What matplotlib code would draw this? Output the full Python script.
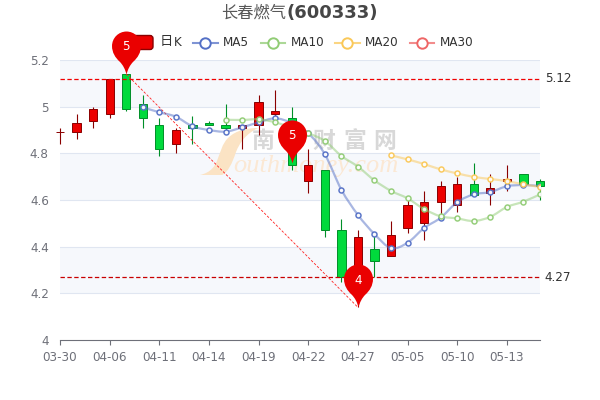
import numpy as np
import matplotlib
matplotlib.use('Agg')
import matplotlib.pyplot as plt
from matplotlib.path import Path
from matplotlib.patches import PathPatch, FancyBboxPatch
from matplotlib.transforms import Affine2D

dates = ['03-30', '', '', '04-06', '', '', '04-11', '', '', '04-14', '', '', '04-19', '', '',
         '04-22', '', '', '04-27', '', '', '05-05', '', '', '05-10', '', '', '05-13', '', '']
opens = [4.89, 4.89, 4.94, 4.97, 5.14, 5.01, 4.92, 4.84, 4.92, 4.93, 4.92, 4.91, 4.92, 4.97, 4.95,
         4.68, 4.73, 4.47, 4.24, 4.39, 4.36, 4.48, 4.50, 4.59, 4.58, 4.67, 4.63, 4.68, 4.71, 4.68]
closes = [4.89, 4.93, 4.99, 5.12, 4.99, 4.95, 4.82, 4.90, 4.91, 4.92, 4.91, 4.92, 5.02, 4.98, 4.75,
          4.75, 4.47, 4.27, 4.44, 4.34, 4.45, 4.58, 4.59, 4.66, 4.67, 4.62, 4.65, 4.69, 4.67, 4.66]
highs = [4.91, 4.97, 5.00, 5.12, 5.14, 5.05, 4.95, 4.91, 4.96, 4.94, 5.01, 4.92, 5.05, 5.07, 5.00,
         4.82, 4.73, 4.52, 4.47, 4.45, 4.51, 4.60, 4.64, 4.68, 4.70, 4.76, 4.71, 4.75, 4.71, 4.69]
lows = [4.84, 4.86, 4.91, 4.95, 4.98, 4.91, 4.79, 4.80, 4.84, 4.92, 4.90, 4.82, 4.88, 4.93, 4.73,
        4.63, 4.44, 4.25, 4.14, 4.27, 4.36, 4.46, 4.43, 4.53, 4.55, 4.62, 4.58, 4.64, 4.67, 4.60]
ma5 = [4.997, 4.976, 4.957, 4.916, 4.90, 4.893, 4.911, 4.933, 4.95, 4.93, 4.886, 4.796, 4.644, 4.536,
       4.454, 4.394, 4.417, 4.48, 4.524, 4.591, 4.624, 4.634, 4.659, 4.664, 4.66]
ma10 = [4.944, 4.943, 4.946, 4.933, 4.91, 4.886, 4.853, 4.789, 4.743, 4.684, 4.639, 4.607, 4.561,
        4.530, 4.521, 4.51, 4.528, 4.57, 4.593, 4.624]
ma20 = [4.791, 4.774, 4.754, 4.731, 4.714, 4.699, 4.69, 4.681, 4.667, 4.656]
ticks_y = [4, 4.2, 4.4, 4.6, 4.8, 5, 5.2]
tick_labels_y = ['4', '4.2', '4.4', '4.6', '4.8', '5', '5.2']
mark_lines = [5.12, 4.27]
pins = [(4, 5.14, '5'), (14, 4.76, '5'), (18, 4.14, '4')]

RED, RED_EDGE = '#ec0000', '#8a0000'
GREEN, GREEN_EDGE = '#00da3c', '#008f28'
AXIS = '#6e7079'
TEXT = '#464646'
MA_COLORS = {'MA5': '#5470c6', 'MA10': '#91cc75', 'MA20': '#fac858', 'MA30': '#ee6666'}

plt.rcParams['font.family'] = ['DejaVu Sans', 'Noto Sans CJK SC']

fig = plt.figure(figsize=(6, 4), dpi=100)
ax = fig.add_axes([60 / 600, 60 / 400, 480 / 600, 280 / 400])
days = np.arange(len(opens))
ax.set_xlim(0, len(opens) - 1)
ax.set_ylim(4, 5.2)
for s in ['top', 'left', 'right']:
    ax.spines[s].set_visible(False)
ax.spines['bottom'].set_color(AXIS)
ax.spines['bottom'].set_linewidth(0.8)

# bands + grid
for lo, hi in [(5.0, 5.2), (4.6, 4.8), (4.2, 4.4)]:
    ax.axhspan(lo, hi, color='#f6f8fc', lw=0, zorder=0)
for v in ticks_y[1:]:
    ax.axhline(v, color='#e0e6f1', lw=0.8, zorder=0.5)

ax.set_yticks(ticks_y, tick_labels_y)
ax.tick_params(axis='y', length=0, pad=8, labelsize=8.64, labelcolor=AXIS)
tick_pos = [i for i, d in enumerate(dates) if d]
ax.set_xticks(tick_pos, [dates[i] for i in tick_pos])
ax.tick_params(axis='x', length=3.6, width=0.8, color=AXIS, pad=4.5, labelsize=8.64, labelcolor=AXIS)

# page pixels (y down) -> display, for watermark and legend
px = Affine2D().scale(1, -1).translate(0, 400)


def page_text(x, y, s, **kw):
    ax.text(x, y, s, transform=px, clip_on=False, **kw)


# watermark
swoosh_v = [(200, 175), (222, 170), (216, 150), (228, 138), (236, 130), (248, 128), (258, 128),
            (246, 134), (240, 142), (236, 152), (232, 164), (228, 172), (222, 175), (200, 175)]
swoosh_c = [Path.MOVETO] + [Path.CURVE4] * 12 + [Path.CLOSEPOLY]
ax.add_patch(PathPatch(Path(swoosh_v, swoosh_c), transform=px, fc='#fbe3c4', ec='none', zorder=1.2))
page_text(233, 172, 'outhmoney.com', family='Liberation Serif', style='italic', fontsize=19,
          color='#fbe8d4', zorder=1.2)
for i, ch in enumerate('南方财富网'):
    page_text(263 + i * 30.5, 141, ch, family='Noto Sans CJK SC', weight='bold', fontsize=16.5,
              color='#d8d8d8', ha='center', va='center', zorder=1.2)


def smooth_path(xs, ys):
    # catmull-rom through the points, as bezier segments
    pts = np.column_stack([xs, ys])
    verts = [pts[0]]
    codes = [Path.MOVETO]
    for i in range(len(pts) - 1):
        p0 = pts[max(i - 1, 0)]
        p1, p2 = pts[i], pts[i + 1]
        p3 = pts[min(i + 2, len(pts) - 1)]
        verts += [p1 + (p2 - p0) / 6, p2 - (p3 - p1) / 6, p2]
        codes += [Path.CURVE4] * 3
    return Path(verts, codes)


# candles
for i in days:
    up = closes[i] >= opens[i]
    edge = RED_EDGE if up else GREEN_EDGE
    face = RED if up else GREEN
    ax.vlines(i, lows[i], highs[i], color=edge, lw=0.8, zorder=2, clip_on=False)
    ax.bar(i, abs(closes[i] - opens[i]), bottom=min(opens[i], closes[i]), width=0.5,
           color=face, edgecolor=edge, lw=0.7, zorder=2.1, clip_on=False)

# mark lines
for v, col in zip(mark_lines, ['#f00000', '#c80000']):
    ax.plot([0, len(opens) - 1], [v, v], color=col, lw=0.9, dashes=(3.5, 2), zorder=3)
    ax.text(1.01, v, f'{v:.2f}', transform=ax.get_yaxis_transform(), fontsize=8.64,
            color='#333333', va='center')
ax.plot([pins[0][0], pins[2][0]], [pins[0][1], pins[2][1]], color='#ff2020', lw=0.6,
        dashes=(3, 2), zorder=3)

# moving averages
for name, vals in [('MA5', ma5), ('MA10', ma10), ('MA20', ma20)]:
    xs = days[-len(vals):]
    col = MA_COLORS[name]
    ax.add_patch(PathPatch(smooth_path(xs, vals), fc='none', ec=col, lw=1.6, alpha=0.5, zorder=4))
    ax.plot(xs, vals, ls='none', marker='o', ms=3.6, mfc='#ffffff', mec=col, mew=1.1, alpha=0.95,
            zorder=4.2)

# legend
ax.add_patch(FancyBboxPatch((129, 35.5), 24, 14, boxstyle='round,pad=0,rounding_size=3', transform=px,
                            fc=RED, ec=RED_EDGE, lw=1, zorder=5, clip_on=False))
page_text(159.5, 42, '日', family='Noto Sans CJK SC', fontsize=9.5, color='#333333', va='center',
          ha='left', zorder=5)
page_text(174, 42.5, 'K', fontsize=8.64, color='#333333', va='center', ha='left', zorder=5)
for name, x0 in zip(['MA5', 'MA10', 'MA20', 'MA30'], [193, 260.5, 335, 409.5]):
    col = MA_COLORS[name]
    ax.plot([x0, x0 + 24.5], [42.5, 42.5], transform=px, color=col, lw=1.5, alpha=0.75, clip_on=False,
            zorder=5)
    ax.plot([x0 + 12.2], [42.5], transform=px, marker='o', ms=7.5, mfc='white', mec=col, mew=1.4, ls='none',
            clip_on=False, zorder=5.1)
    page_text(x0 + 30, 42.5, name, fontsize=8.64, color='#333333', va='center', ha='left', zorder=5)

# pins
r = 0.337
k = 0.5523 * r
cy = 1 - r
pin_v = [(0, 0), (0.03, 0.12), (0.08, 0.22), (0.16, 0.30), (0.26, 0.39), (r, 0.51), (r, cy),
         (r, cy + k), (k, 1), (0, 1), (-k, 1), (-r, cy + k), (-r, cy), (-r, 0.51), (-0.26, 0.39),
         (-0.16, 0.30), (-0.08, 0.22), (-0.03, 0.12), (0, 0), (0, 0)]
pin_c = [Path.MOVETO] + [Path.CURVE4] * 18 + [Path.CLOSEPOLY]
pin_marker = Path(pin_v, pin_c)
for x, y, label in pins:
    ax.plot([x], [y], marker=pin_marker, ms=61.9, mfc='#ea0000', mec='none', ls='none', zorder=6,
            clip_on=False)
    ax.annotate(label, (x, y), xytext=(0, 19.5), textcoords='offset points', color='white',
                fontsize=8.64, ha='center', va='center', zorder=7, annotation_clip=False)

# title
fig.text(286.5 / 600, 1 - 13 / 400, '长春燃气', family='Noto Sans CJK SC', fontsize=11.7,
         color=TEXT, ha='right', va='center', alpha=0.9)
fig.text(287 / 600, 1 - 13 / 400, '(600333)', fontsize=13, weight='bold', color=TEXT, ha='left',
         va='center')

fig.savefig('out.png', dpi=100)
